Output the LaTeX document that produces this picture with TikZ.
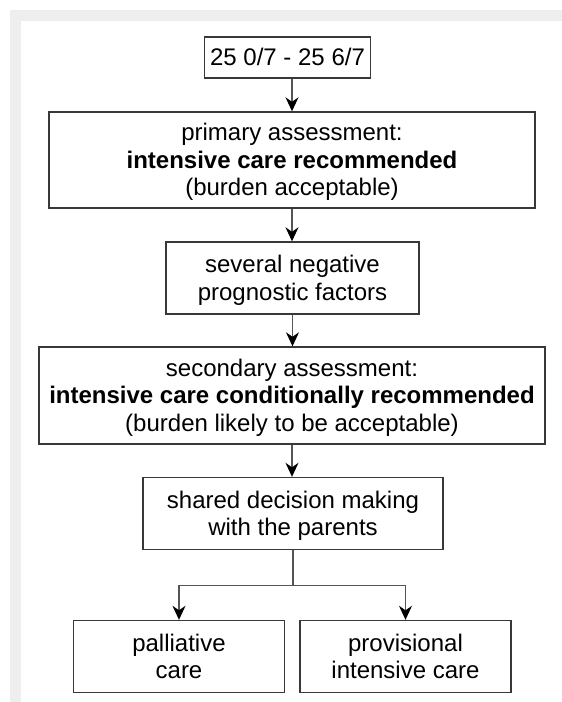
\documentclass[tikz,border=0pt]{standalone}
\usepackage{fontspec}
\setmainfont{Liberation Sans}
\usetikzlibrary{arrows.meta}
\definecolor{framegray}{HTML}{EEEEEE}
\definecolor{boxgray}{HTML}{383838}
\definecolor{linegray}{HTML}{555555}
\newcommand{\lnst}{\rule[-0.228em]{0pt}{1.149em}}
\begin{document}
\begin{tikzpicture}[x=1pt,y=-1pt,
  boxnode/.style={draw=boxgray, line width=1.4pt, inner sep=0pt, align=center,
    font=\fontsize{24}{27.6}\selectfont, text=black},
  arr/.style={draw=linegray, line width=1.2pt,
    -{Stealth[length=14pt,width=13pt,inset=4.5pt,color=black]}},
  link/.style={draw=linegray, line width=1.2pt}]
  % canvas and frame
  \fill[white] (0,0) rectangle (562,702);
  \useasboundingbox (0,0) rectangle (562,702);
  \fill[framegray] (10,10) rectangle (562,21);
  \fill[framegray] (10,10) rectangle (21,702);
  % boxes
  \node[boxnode, minimum width=166pt, minimum height=41pt] (b1) at (287.5,57.5)
    {\lnst 25 0/7 - 25 6/7};
  \node[boxnode, minimum width=486pt, minimum height=96pt] (b2) at (292,160)
    {\lnst primary assessment:\\ \lnst\textbf{intensive care recommended}\\ \lnst(burden acceptable)};
  \node[boxnode, minimum width=253pt, minimum height=72pt] (b3) at (292.5,278)
    {\lnst several negative\\ \lnst prognostic factors};
  \node[boxnode, minimum width=506pt, minimum height=97pt] (b4) at (292,395.5)
    {\lnst secondary assessment:\\ \lnst\textbf{intensive care conditionally recommended}\\ \lnst(burden likely to be acceptable)};
  \node[boxnode, minimum width=300pt, minimum height=72pt] (b5) at (293,513.5)
    {\lnst shared decision making\\ \lnst with the parents};
  \node[boxnode, minimum width=211pt, minimum height=72pt] (b6) at (179,656.5)
    {\lnst palliative\\ \lnst care};
  \node[boxnode, minimum width=211pt, minimum height=72pt] (b7) at (405.5,656.5)
    {\lnst provisional\\ \lnst intensive care};
  % connectors
  \draw[arr] (b1.south -| b2.north) -- (b2.north);
  \draw[arr] (b2.south) -- (b2.south |- b3.north);
  \draw[arr] (b3.south) -- (b3.south |- b4.north);
  \draw[arr] (b4.south) -- (b4.south |- b5.north);
  \coordinate (split) at (293,585.5);
  \draw[link] (b5.south) -- (split);
  \draw[arr] (split) -| (b6.north);
  \draw[arr] (split) -| (b7.north);
\end{tikzpicture}
\end{document}
